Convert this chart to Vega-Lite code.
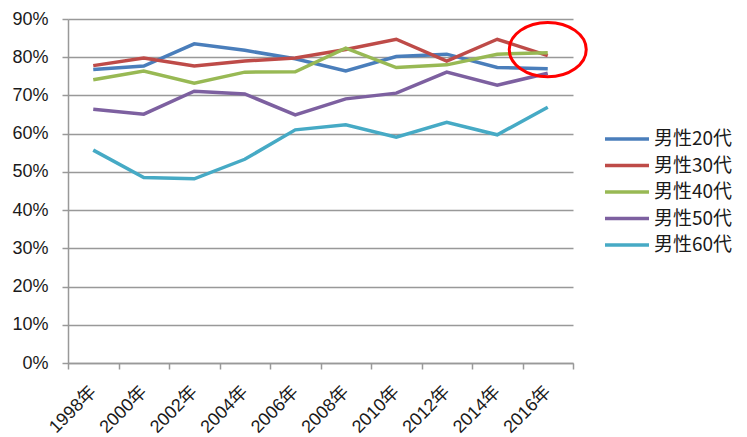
{
  "$schema": "https://vega.github.io/schema/vega-lite/v6.json",
  "autosize": {"type": "none"},
  "width": 505,
  "height": 344,
  "padding": {"left": 68, "top": 19, "right": 174, "bottom": 74},
  "background": "white",
  "config": {"view": {"stroke": null}},
  "datasets": {
    "lines": [
      {"year": "1998年", "group": "男性20代", "value": 0.768},
      {"year": "2000年", "group": "男性20代", "value": 0.777},
      {"year": "2002年", "group": "男性20代", "value": 0.835},
      {"year": "2004年", "group": "男性20代", "value": 0.818},
      {"year": "2006年", "group": "男性20代", "value": 0.796},
      {"year": "2008年", "group": "男性20代", "value": 0.764},
      {"year": "2010年", "group": "男性20代", "value": 0.802},
      {"year": "2012年", "group": "男性20代", "value": 0.808},
      {"year": "2014年", "group": "男性20代", "value": 0.773},
      {"year": "2016年", "group": "男性20代", "value": 0.770},
      {"year": "1998年", "group": "男性30代", "value": 0.778},
      {"year": "2000年", "group": "男性30代", "value": 0.798},
      {"year": "2002年", "group": "男性30代", "value": 0.777},
      {"year": "2004年", "group": "男性30代", "value": 0.790},
      {"year": "2006年", "group": "男性30代", "value": 0.798},
      {"year": "2008年", "group": "男性30代", "value": 0.820},
      {"year": "2010年", "group": "男性30代", "value": 0.847},
      {"year": "2012年", "group": "男性30代", "value": 0.790},
      {"year": "2014年", "group": "男性30代", "value": 0.847},
      {"year": "2016年", "group": "男性30代", "value": 0.804},
      {"year": "1998年", "group": "男性40代", "value": 0.741},
      {"year": "2000年", "group": "男性40代", "value": 0.764},
      {"year": "2002年", "group": "男性40代", "value": 0.732},
      {"year": "2004年", "group": "男性40代", "value": 0.761},
      {"year": "2006年", "group": "男性40代", "value": 0.762},
      {"year": "2008年", "group": "男性40代", "value": 0.824},
      {"year": "2010年", "group": "男性40代", "value": 0.773},
      {"year": "2012年", "group": "男性40代", "value": 0.780},
      {"year": "2014年", "group": "男性40代", "value": 0.808},
      {"year": "2016年", "group": "男性40代", "value": 0.812},
      {"year": "1998年", "group": "男性50代", "value": 0.664},
      {"year": "2000年", "group": "男性50代", "value": 0.651},
      {"year": "2002年", "group": "男性50代", "value": 0.711},
      {"year": "2004年", "group": "男性50代", "value": 0.704},
      {"year": "2006年", "group": "男性50代", "value": 0.649},
      {"year": "2008年", "group": "男性50代", "value": 0.691},
      {"year": "2010年", "group": "男性50代", "value": 0.706},
      {"year": "2012年", "group": "男性50代", "value": 0.761},
      {"year": "2014年", "group": "男性50代", "value": 0.727},
      {"year": "2016年", "group": "男性50代", "value": 0.758},
      {"year": "1998年", "group": "男性60代", "value": 0.557},
      {"year": "2000年", "group": "男性60代", "value": 0.485},
      {"year": "2002年", "group": "男性60代", "value": 0.482},
      {"year": "2004年", "group": "男性60代", "value": 0.533},
      {"year": "2006年", "group": "男性60代", "value": 0.610},
      {"year": "2008年", "group": "男性60代", "value": 0.623},
      {"year": "2010年", "group": "男性60代", "value": 0.591},
      {"year": "2012年", "group": "男性60代", "value": 0.630},
      {"year": "2014年", "group": "男性60代", "value": 0.597},
      {"year": "2016年", "group": "男性60代", "value": 0.669}
    ],
    "annot": [
      {"year": "2016年", "value": 0.82}
    ]
  },
  "encoding": {
    "x": {
      "field": "year",
      "type": "ordinal",
      "bandPosition": 0.5,
      "scale": {"type": "band", "paddingInner": 0, "paddingOuter": 0},
      "axis": {
        "title": null,
        "labelAngle": -45,
        "labelAlign": "right",
        "labelBaseline": "middle",
        "labelPadding": 20,
        "labelOverlap": false,
        "labelFont": "Liberation Sans, Noto Sans CJK JP",
        "labelFontSize": 18,
        "labelColor": "#1a1a1a",
        "tickBand": "extent",
        "tickSize": 6,
        "tickColor": "#999999",
        "tickWidth": 1.5,
        "domainColor": "#999999",
        "domainWidth": 1.5,
        "grid": false
      }
    },
    "y": {
      "field": "value",
      "type": "quantitative",
      "scale": {"domain": [0, 0.9], "nice": false},
      "axis": {
        "title": null,
        "format": ".0%",
        "values": [0, 0.1, 0.2, 0.3, 0.4, 0.5, 0.6, 0.7, 0.8, 0.9],
        "labelOverlap": false,
        "labelFont": "Liberation Sans",
        "labelFontSize": 18,
        "labelColor": "#1a1a1a",
        "labelPadding": 14,
        "tickSize": 6,
        "tickColor": "#999999",
        "tickWidth": 1.5,
        "domainColor": "#999999",
        "domainWidth": 1.5,
        "grid": true,
        "gridColor": "#999999",
        "gridWidth": 1.5
      }
    }
  },
  "layer": [
    {
      "data": {"name": "lines"},
      "mark": {"type": "line", "strokeWidth": 3.5},
      "encoding": {
        "color": {
          "field": "group",
          "type": "nominal",
          "scale": {
            "domain": ["男性20代", "男性30代", "男性40代", "男性50代", "男性60代"],
            "range": ["#4A7EBB", "#BE4B48", "#98B954", "#7D60A0", "#46AAC5"]
          },
          "legend": {
            "title": null,
            "orient": "none",
            "legendX": 546,
            "legendY": 107,
            "symbolType": "M -2 0 L 2 0",
            "symbolSize": 484,
            "symbolStrokeWidth": 3.5,
            "labelFont": "Noto Sans CJK JP",
            "labelFontSize": 19,
            "labelColor": "#1a1a1a",
            "labelOffset": 14,
            "rowPadding": 3.5,
            "padding": 0
          }
        }
      }
    },
    {
      "data": {"name": "annot"},
      "mark": {
        "type": "point",
        "shape": "M 1 0 C 1 0.390 0.552 0.706 0 0.706 C -0.552 0.706 -1 0.390 -1 0 C -1 -0.390 -0.552 -0.706 0 -0.706 C 0.552 -0.706 1 -0.390 1 0 Z",
        "size": 5929,
        "filled": false,
        "stroke": "#FF0000",
        "strokeWidth": 3,
        "opacity": 1
      },
      "encoding": {}
    }
  ]
}
